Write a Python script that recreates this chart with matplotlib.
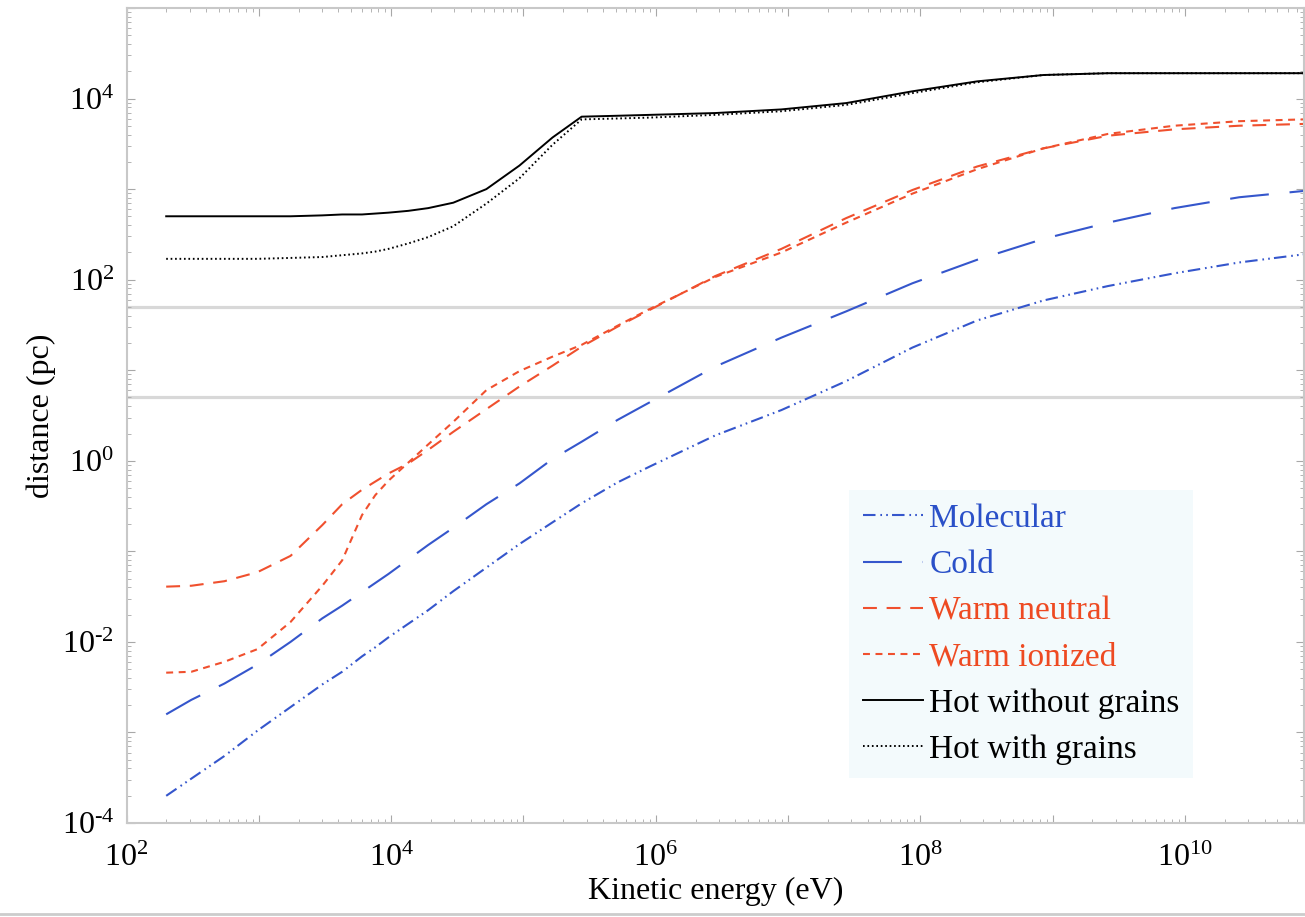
import numpy as np
import matplotlib
matplotlib.use('Agg')
import matplotlib.pyplot as plt
from matplotlib.ticker import FixedLocator, LogLocator, NullFormatter, FuncFormatter
from matplotlib.lines import Line2D

# log10 of kinetic energy (eV), shared by all curves
log_energy = [2.30, 2.49, 2.74, 2.99, 3.24, 3.48, 3.63, 3.78, 3.88, 3.98, 4.13, 4.28, 4.47, 4.72,
              4.97, 5.22, 5.44, 5.71, 5.96, 6.45, 6.95, 7.44, 7.94, 8.43, 8.93, 9.42, 9.92, 10.41, 10.9]

# log10 of distance (pc)
molecular = [-3.70, -3.51, -3.26, -2.98, -2.72, -2.47, -2.33, -2.16, -2.06, -1.95, -1.80, -1.65, -1.44, -1.18,
             -0.92, -0.68, -0.47, -0.24, -0.06, 0.28, 0.56, 0.88, 1.25, 1.55, 1.77, 1.93, 2.07, 2.19, 2.28]
cold = [-2.80, -2.64, -2.46, -2.25, -2.00, -1.74, -1.60, -1.45, -1.35, -1.25, -1.09, -0.93, -0.74, -0.48,
        -0.25, 0.02, 0.21, 0.45, 0.65, 1.04, 1.36, 1.65, 1.96, 2.22, 2.45, 2.63, 2.79, 2.91, 2.98]
warm_neutral = [-1.39, -1.38, -1.33, -1.23, -1.05, -0.71, -0.48, -0.32, -0.23, -0.14, -0.03, 0.12, 0.32, 0.57,
                0.82, 1.05, 1.26, 1.48, 1.67, 2.04, 2.34, 2.68, 2.99, 3.25, 3.45, 3.59, 3.66, 3.70, 3.72]
warm_ionized = [-2.34, -2.33, -2.22, -2.08, -1.78, -1.38, -1.10, -0.60, -0.38, -0.22, -0.02, 0.18, 0.43, 0.78,
                0.99, 1.15, 1.28, 1.49, 1.68, 2.03, 2.30, 2.63, 2.95, 3.22, 3.45, 3.61, 3.70, 3.75, 3.77]
hot_no_grains = [2.70, 2.70, 2.70, 2.70, 2.70, 2.71, 2.72, 2.72, 2.73, 2.74, 2.76, 2.79, 2.85, 3.00,
                 3.26, 3.57, 3.80, 3.81, 3.82, 3.84, 3.88, 3.95, 4.08, 4.19, 4.26, 4.28, 4.28, 4.28, 4.28]
hot_grains = [2.23, 2.23, 2.23, 2.23, 2.24, 2.25, 2.27, 2.29, 2.31, 2.34, 2.40, 2.47, 2.59, 2.84,
              3.12, 3.49, 3.77, 3.78, 3.79, 3.82, 3.86, 3.93, 4.06, 4.18, 4.26, 4.28, 4.28, 4.28, 4.28]

ref_lines = [50, 5]

plt.rcParams['font.family'] = ['Liberation Serif', 'DejaVu Serif']
plt.rcParams['mathtext.fontset'] = 'custom'
plt.rcParams['mathtext.rm'] = 'Liberation Serif'
plt.rcParams['mathtext.it'] = 'Liberation Serif:italic'
plt.rcParams['lines.scale_dashes'] = False

blue = '#3556cc'
red = '#f0502e'

fig = plt.figure(figsize=(13.05, 9.17), dpi=100)
ax = fig.add_axes([126.5 / 1305, 94 / 917, 1177.5 / 1305, 815 / 917])

E = 10 ** np.array(log_energy)
for y in ref_lines:
    ax.axhline(y, color='#d8d8d8', lw=2.3, zorder=1)

ax.plot(E, 10 ** np.array(molecular), color=blue, lw=1.5, dashes=(9, 3.5, 1.2, 3, 1.2, 3), label='Molecular')
ax.plot(E, 10 ** np.array(cold), color=blue, lw=1.5, dashes=(28, 15), label='Cold')
ax.plot(E, 10 ** np.array(warm_neutral), color=red, lw=1.5, dashes=(10, 7), label='Warm neutral')
ax.plot(E, 10 ** np.array(warm_ionized), color=red, lw=1.5, dashes=(5, 4), label='Warm ionized')
ax.plot(E, 10 ** np.array(hot_no_grains), color='black', lw=1.4, label='Hot without grains')
ax.plot(E, 10 ** np.array(hot_grains), color='black', lw=1.4, dashes=(1.2, 2), label='Hot with grains')

ax.set_xscale('log')
ax.set_yscale('log')
ax.set_xlim(1e2, 10 ** 10.9)
ax.set_ylim(1e-4, 1e5)

def even_pow(v, pos):
    p = int(round(np.log10(v)))
    if p % 2:
        return ''
    if p < 0:
        return r'$10^{\text{-}%d}$' % (-p)
    return r'$10^{%d}$' % p

for axis, lo, hi in [(ax.xaxis, 2, 10), (ax.yaxis, -4, 5)]:
    axis.set_major_locator(FixedLocator(10.0 ** np.arange(lo, hi + 1)))
    axis.set_major_formatter(FuncFormatter(even_pow))
    axis.set_minor_locator(LogLocator(base=10, subs=np.arange(2, 10), numticks=50))
    axis.set_minor_formatter(NullFormatter())

ax.tick_params(which='both', direction='in', top=True, right=True, color='#a8a8a8', labelsize=23)
ax.tick_params(which='major', length=6)
ax.tick_params(which='minor', length=3)
ax.tick_params(axis='x', pad=15)
ax.tick_params(axis='y', pad=9)
for s in ax.spines.values():
    s.set_color('#c8c8c8')
    s.set_linewidth(1.5)

ax.set_xlabel('Kinetic energy (eV)', fontsize=23, labelpad=3)
ax.set_ylabel('distance (pc)', fontsize=23, labelpad=4)

leg = ax.legend(loc='lower left', bbox_to_anchor=(0.614, 0.055), fontsize=24, frameon=True,
                handlelength=1.8, handletextpad=0.2, labelspacing=0.47, borderpad=0.4,
                borderaxespad=0)
leg.get_frame().set_facecolor('#f3fafc')
leg.get_frame().set_edgecolor('none')
leg.get_frame().set_alpha(1)
leg.get_frame().set_boxstyle('square', pad=0)
for t, c in zip(leg.get_texts(), ['#2a50c8', '#2a50c8', '#ee4a22', '#ee4a22', 'black', 'black']):
    t.set_color(c)

fig.add_artist(Line2D([0, 1], [0.003, 0.003], transform=fig.transFigure, color='#cccccc', lw=2))

fig.savefig('out.png', dpi=100)
